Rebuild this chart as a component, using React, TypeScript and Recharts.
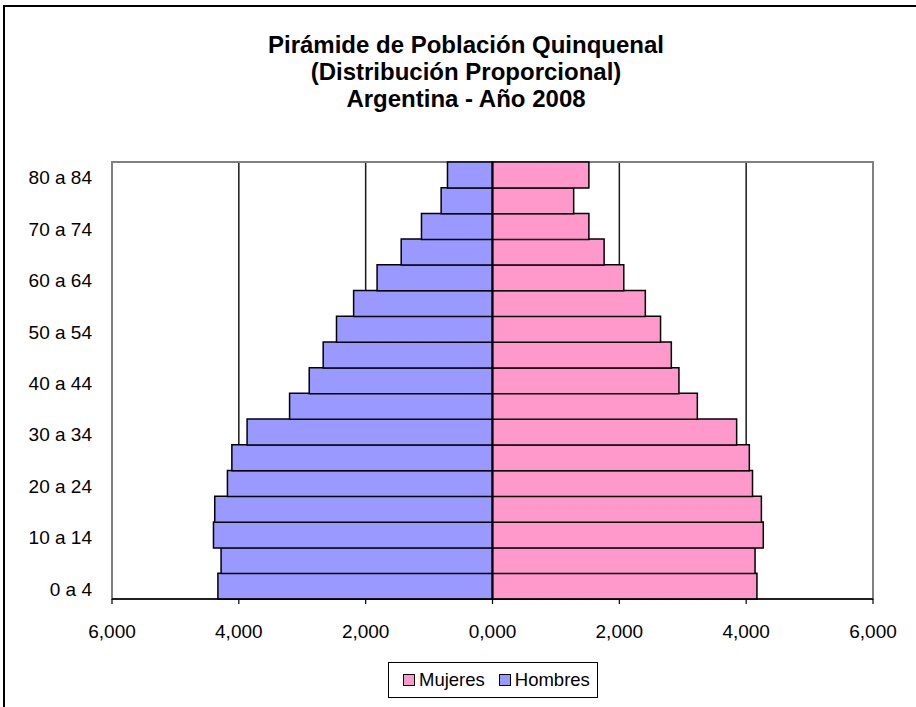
import { BarChart, Bar, XAxis, YAxis, CartesianGrid, ReferenceLine, ReferenceArea } from 'recharts'

const ageGroups = [
  '0 a 4', '5 a 9', '10 a 14', '15 a 19', '20 a 24', '25 a 29', '30 a 34', '35 a 39', '40 a 44',
  '45 a 49', '50 a 54', '55 a 59', '60 a 64', '65 a 69', '70 a 74', '75 a 79', '80 a 84',
]
const mujeres = [4.17, 4.14, 4.27, 4.24, 4.10, 4.05, 3.85, 3.23, 2.94, 2.82, 2.65, 2.41, 2.07, 1.76, 1.52, 1.28, 1.52]
const hombres = [4.33, 4.28, 4.40, 4.38, 4.18, 4.11, 3.87, 3.20, 2.89, 2.67, 2.46, 2.19, 1.82, 1.44, 1.12, 0.81, 0.71]
const xDomain = [-6, 6]
const xTicks = [-6, -4, -2, 0, 2, 4, 6]
const gridValues = [-4, -2, 2, 4]
const titleLines = ['Pirámide de Población Quinquenal', '(Distribución Proporcional)', 'Argentina - Año 2008']
const series = [
  { key: 'Mujeres', color: '#FF99CC' },
  { key: 'Hombres', color: '#9999FF' },
]

const data = ageGroups.map((age, i) => ({ age, Mujeres: mujeres[i], Hombres: -hombres[i] }))

const FONT = '"Liberation Sans", Arial, sans-serif'

const fmt = (v: number) => Math.abs(v).toFixed(3).replace('.', ',')

// grid only at the inner ticks; the outer edges get the grey plot border
const gridX = ({ offset }: any) =>
  gridValues.map(v => offset.left + ((v - xDomain[0]) / (xDomain[1] - xDomain[0])) * offset.width)

function AgeTick({ x, y, payload }: any) {
  return (
    <text x={x} y={y} dy={3} textAnchor="end" dominantBaseline="central" fontSize={19} fontFamily={FONT} fill="#000">
      {payload.value}
    </text>
  )
}

export default function App() {
  return (
    <div style={{ position: 'absolute', left: 0, top: 0, width: 916, height: 707, overflow: 'hidden', background: '#fff' }}>
      <div style={{ position: 'absolute', left: 3, top: 5, width: 2000, height: 2000, borderLeft: '2px solid #000', borderTop: '2px solid #000' }} />
      <div style={{ position: 'absolute', left: 0, width: 932, top: 31, textAlign: 'center', fontFamily: FONT, fontWeight: 'bold', fontSize: 24, lineHeight: '27.2px', color: '#000' }}>
        {titleLines.map(t => <div key={t}>{t}</div>)}
      </div>
      <div style={{ position: 'absolute', left: 0, top: 0 }}>
        <BarChart
          width={916}
          height={707}
          data={data}
          layout="vertical"
          stackOffset="sign"
          barCategoryGap={0}
          margin={{ top: 162, right: 43, left: 0, bottom: 78 }}
        >
          <CartesianGrid horizontal={false} stroke="#1a1a1a" strokeWidth={1.5} verticalCoordinatesGenerator={gridX} />
          <ReferenceArea x1={-6} x2={6} fill="none" stroke="#808080" strokeWidth={2} fillOpacity={0} />
          <XAxis
            type="number"
            domain={xDomain}
            ticks={xTicks}
            tickFormatter={fmt}
            axisLine={{ stroke: '#000', strokeWidth: 1.5 }}
            tickLine={{ stroke: '#000', strokeWidth: 1.2 }}
            tickSize={5}
            tickMargin={21}
            tick={{ fill: '#000', fontSize: 19, fontFamily: FONT }}
            height={30}
          />
          <YAxis
            type="category"
            dataKey="age"
            reversed
            interval={1}
            axisLine={false}
            tickLine={false}
            tickSize={0}
            tickMargin={20}
            width={112}
            tick={<AgeTick />}
          />
          <Bar dataKey="Hombres" stackId="p" fill="#9999FF" stroke="#000" strokeWidth={1.5} isAnimationActive={false} />
          <Bar dataKey="Mujeres" stackId="p" fill="#FF99CC" stroke="#000" strokeWidth={1.5} isAnimationActive={false} />
          <ReferenceLine x={0} stroke="#000" strokeWidth={2} />
        </BarChart>
      </div>
      <div style={{ position: 'absolute', left: 388, top: 662, width: 210, height: 36, boxSizing: 'border-box', border: '1.5px solid #000', display: 'flex', alignItems: 'center', paddingLeft: 14, fontFamily: FONT, fontSize: 18.5, color: '#000', background: '#fff' }}>
        {series.map((s, i) => (
          <div key={s.key} style={{ display: 'flex', alignItems: 'center', marginLeft: i ? 14 : 0 }}>
            <span style={{ display: 'inline-block', width: 12, height: 12, boxSizing: 'border-box', border: '1.5px solid #000', background: s.color, marginRight: 4 }} />
            <span>{s.key}</span>
          </div>
        ))}
      </div>
    </div>
  )
}
